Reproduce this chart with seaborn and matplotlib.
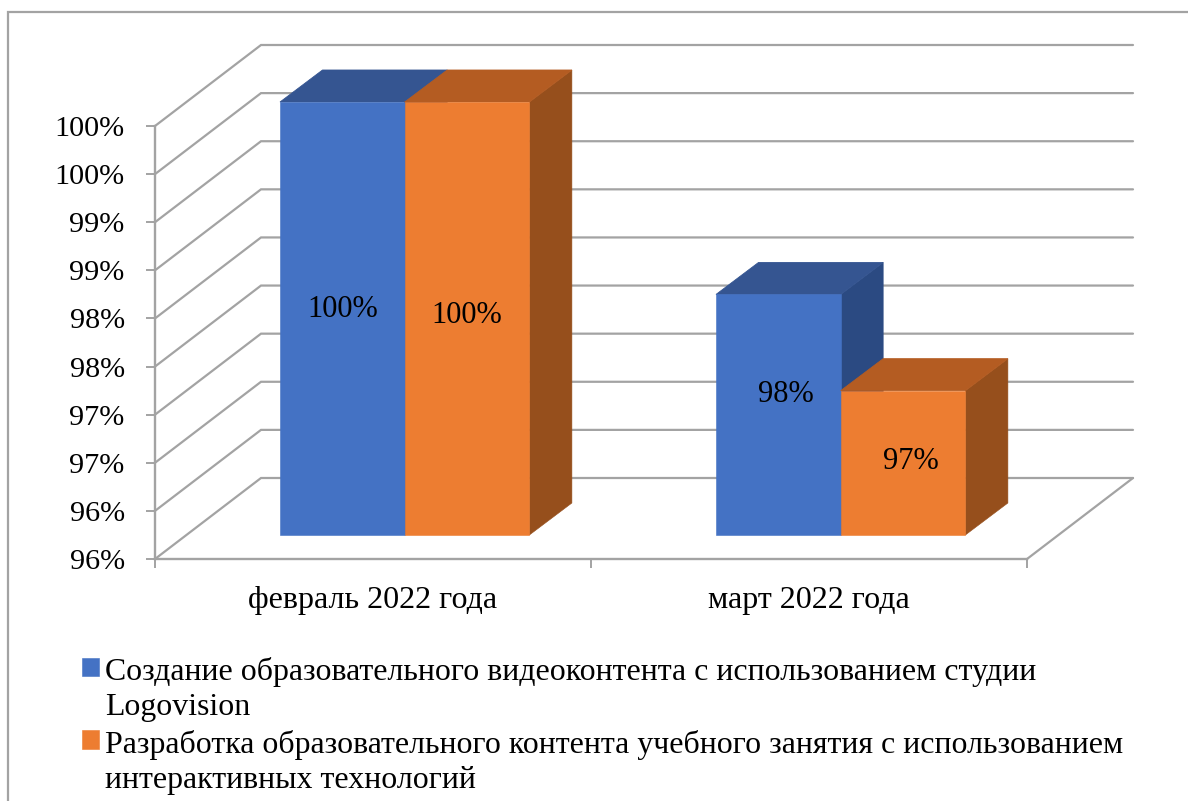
import matplotlib
matplotlib.use("Agg")
import matplotlib.pyplot as plt
from matplotlib.patches import Polygon, Rectangle
import pandas as pd
import seaborn as sns

months = ['февраль 2022 года', 'март 2022 года']
series_names = [
    'Создание образовательного видеоконтента с использованием студии\nLogovision',
    'Разработка образовательного контента учебного занятия с использованием\nинтерактивных технологий',
]
video_values = [100, 98]
content_values = [100, 97]
tick_values = [95.5, 96, 96.5, 97, 97.5, 98, 98.5, 99, 99.5, 100]
tick_labels = ['96%', '96%', '97%', '97%', '98%', '98%', '99%', '99%', '100%', '100%']
value_labels = ['100%', '98%', '100%', '97%']

colors = ['#4472C4', '#ED7D31']
top_colors = ['#355591', '#B45C22']
side_colors = ['#2B4A82', '#964F1C']
grid_color = '#A3A3A3'

W, H = 1188, 801
sns.set_theme(style='white')
plt.rcParams['font.family'] = ['Liberation Serif', 'DejaVu Serif']

df = pd.DataFrame({
    'month': months * 2,
    'value': video_values + content_values,
    'series': [series_names[0]] * 2 + [series_names[1]] * 2,
})

fig = plt.figure(figsize=(W / 100, H / 100), dpi=100)
ax = fig.add_axes([155 / W, 1 - 559 / H, 872 / W, 433 / H])
sns.barplot(data=df, x='month', y='value', hue='series', palette=colors,
            width=0.572, gap=0, legend=False, ax=ax, saturation=1)
ax.set_xlim(-0.5, 1.5)
ax.set_ylim(95.5, 100)

# pixels to data units
ux = 2 / 872
uy = 4.5 / 433

# back wall and floor
wall_dx, wall_dy = 106 * ux, 81 * uy
for v in tick_values:
    ax.plot([-0.5, -0.5 + wall_dx, 1.5 + wall_dx], [v, v + wall_dy, v + wall_dy],
            color=grid_color, lw=1.6, clip_on=False, zorder=1, solid_joinstyle='miter')
ax.plot([1.5, 1.5 + wall_dx], [95.5, 95.5 + wall_dy], color=grid_color, lw=1.6,
        clip_on=False, zorder=1)

# bars sit a bit behind the axis plane, with a fake depth
shift_x, shift_y = 31.7 * ux, 24 * uy
depth_x, depth_y = 42.5 * ux, 32 * uy
label_dx = [0, 8, 0, 8]
label_dy = [9, 20, 3, 1]
bars = list(ax.patches)
order = [0, 2, 1, 3]  # left to right, so later bars cover earlier sides
for z, i in enumerate(order):
    bar = bars[i]
    col = i // 2
    x0 = bar.get_x() + shift_x
    x1 = x0 + bar.get_width()
    y0 = 95.5 + shift_y
    y1 = bar.get_height() + shift_y
    bar.set_x(x0)
    bar.set_y(y0)
    bar.set_height(y1 - y0)
    bar.set_clip_on(False)
    bar.set_edgecolor(colors[col])
    bar.set_linewidth(0.4)
    bar.set_zorder(3 + z)
    ax.add_patch(Polygon([(x1, y0), (x1 + depth_x, y0 + depth_y), (x1 + depth_x, y1 + depth_y), (x1, y1)],
                         fc=side_colors[col], ec=side_colors[col], lw=0.4, clip_on=False, zorder=3 + z - 0.2))
    ax.add_patch(Polygon([(x0, y1), (x0 + depth_x, y1 + depth_y), (x1 + depth_x, y1 + depth_y), (x1, y1)],
                         fc=top_colors[col], ec=top_colors[col], lw=0.6, clip_on=False, zorder=3 + z - 0.1))
    ax.text((x0 + x1) / 2 + label_dx[i] * ux, (y0 + y1) / 2 + label_dy[i] * uy, value_labels[i],
            ha='center', va='center', fontsize=22, color='black', zorder=10)

# axes
sns.despine(ax=ax)
for side in ['left', 'bottom']:
    ax.spines[side].set_color(grid_color)
    ax.spines[side].set_linewidth(1.7)
ax.set_xlabel('')
ax.set_ylabel('')
ax.set_yticks(tick_values)
ax.set_yticklabels(tick_labels, fontsize=21.7, color='black')
ax.tick_params(axis='y', left=True, length=6.5, width=1.4, color=grid_color, pad=15.3)
ax.set_xticks([0, 1])
ax.set_xticklabels(months, fontsize=23, color='black')
ax.set_xticks([-0.5, 0.5, 1.5], minor=True)
ax.tick_params(axis='x', which='major', bottom=False, pad=13.5)
ax.tick_params(axis='x', which='minor', bottom=True, length=6.5, width=1.4, color=grid_color)

handles = [c[0] for c in ax.containers]
leg = fig.legend(handles, series_names, loc='upper left', bbox_to_anchor=(82 / W, 1 - 657 / H),
                 frameon=False, fontsize=22.95, handlelength=0.53, handleheight=0.53, handletextpad=0.18,
                 borderpad=0, borderaxespad=0, labelspacing=0.245, labelcolor='black')
for t in leg.get_texts():
    t.set_linespacing(1.27)
# lift the swatches to the first line of their label
for h in leg.legend_handles:
    h.set_y(h.get_y() + 16)

# chart area border, cut off by the image on the right and bottom
fig.add_artist(Rectangle((8 / W, -0.1), 1.2, 1.1 - 12 / H, fill=False, ec=grid_color, lw=1.6,
                         transform=fig.transFigure))

plt.savefig('out.png', dpi=100)
